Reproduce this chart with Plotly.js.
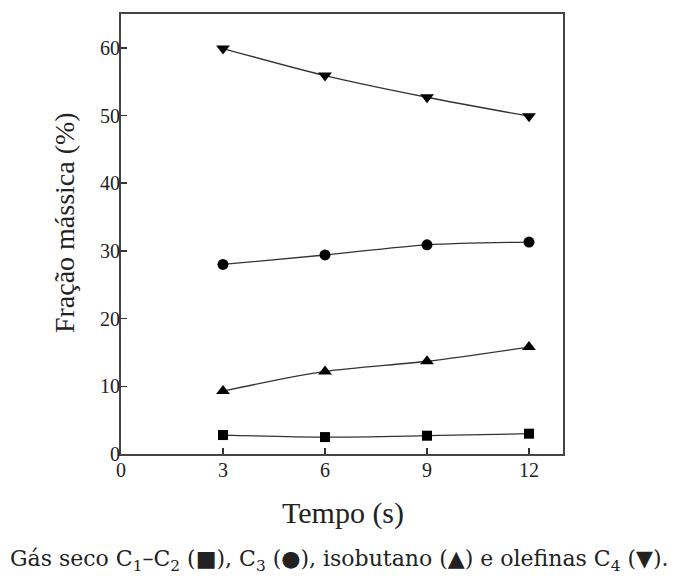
<!DOCTYPE html>
<html><head><meta charset="utf-8">
<script src="https://cdn.plot.ly/plotly-3.0.1.min.js"></script>
<style>body{margin:0;background:#fff}#c{width:675px;height:581px}</style>
</head><body><div id="c"></div>
<script>
const tempo = [3, 6, 9, 12];
const gasSeco = [2.8, 2.5, 2.7, 3.0];
const c3 = [28.0, 29.4, 30.9, 31.3];
const isobutano = [9.3, 12.2, 13.7, 15.8];
const olefinasC4 = [59.9, 55.9, 52.7, 49.9];
const xTicks = [0, 3, 6, 9, 12];
const yTicks = [0, 10, 20, 30, 40, 50, 60];

const serif = "Liberation Serif, Times New Roman, serif";
function tr(y, sym, size) {
  return {x: tempo, y: y, mode: 'lines+markers', type: 'scatter',
    line: {color: '#333', width: 1.3, shape: 'spline', smoothing: 0.8},
    marker: {symbol: sym, size: size, color: '#000'}, showlegend: false};
}
const data = [
  tr(gasSeco, 'square', 10),
  tr(c3, 'circle', 11),
  tr(isobutano, 'triangle-up', 12),
  tr(olefinasC4, 'triangle-down', 12)
];
const layout = {
  width: 675, height: 581,
  margin: {l: 121, r: 112, t: 14, b: 127},
  paper_bgcolor: '#fff', plot_bgcolor: '#fff',
  font: {family: serif, color: '#222'},
  xaxis: {range: [0, 13], tickvals: xTicks, ticktext: xTicks.map(String),
    ticks: 'inside', ticklen: 6, tickcolor: '#333', tickwidth: 1.5,
    showline: true, linecolor: '#444', linewidth: 2, mirror: true,
    showgrid: false, zeroline: false, tickfont: {size: 20, family: serif},
    ticklabelstandoff: -3},
  yaxis: {range: [0, 65], tickvals: yTicks, ticktext: yTicks.map(String),
    ticks: 'inside', ticklen: 6, tickcolor: '#333', tickwidth: 1.5,
    showline: true, linecolor: '#444', linewidth: 2, mirror: true,
    showgrid: false, zeroline: false, tickfont: {size: 20, family: serif},
    ticklabelstandoff: -5},
  annotations: [
    {xref: 'paper', yref: 'paper', x: 0.503, y: -0.134, xanchor: 'center', yanchor: 'middle',
     showarrow: false, font: {size: 30, family: serif, color: '#222'}, text: 'Tempo (s)'},
    {xref: 'paper', yref: 'paper', x: -0.129, y: 0.527, xanchor: 'center', yanchor: 'middle',
     textangle: -90, showarrow: false, font: {size: 28, family: serif, color: '#222'},
     text: 'Fração mássica (%)'},
    {xref: 'paper', yref: 'paper', x: 0.495, y: -0.241, xanchor: 'center', yanchor: 'middle',
     showarrow: false, font: {size: 22, family: 'DejaVu Serif', color: '#222'},
     text: 'Gás seco C<sub>1</sub>–C<sub>2</sub> (■), C<sub>3</sub> (●), isobutano (▲) e olefinas C<sub>4</sub> (▼).'}
  ]
};
Plotly.newPlot('c', data, layout, {displayModeBar: false, staticPlot: true});
</script></body></html>
